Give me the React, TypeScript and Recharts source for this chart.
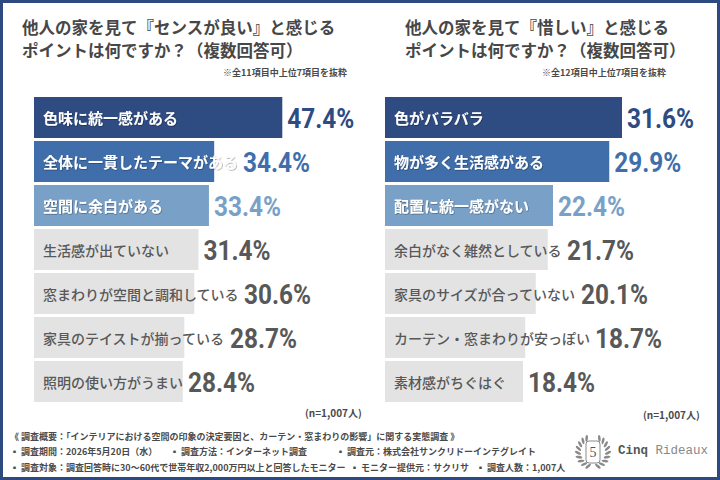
import * as React from 'react';
import { BarChart, Bar, XAxis, YAxis } from 'recharts';

// 左：センスが良いと感じるポイント
const senseCategories = [
  '色味に統一感がある',
  '全体に一貫したテーマがある',
  '空間に余白がある',
  '生活感が出ていない',
  '窓まわりが空間と調和している',
  '家具のテイストが揃っている',
  '照明の使い方がうまい',
];
const senseValues = [47.4, 34.4, 33.4, 31.4, 30.6, 28.7, 28.4];

// 右：惜しいと感じるポイント
const regretCategories = [
  '色がバラバラ',
  '物が多く生活感がある',
  '配置に統一感がない',
  '余白がなく雑然としている',
  '家具のサイズが合っていない',
  'カーテン・窓まわりが安っぽい',
  '素材感がちぐはぐ',
];
const regretValues = [31.6, 29.9, 22.4, 21.7, 20.1, 18.7, 18.4];

const topColors = ['#2e4b82', '#3f6eab', '#79a1c8'];
const GRAY_BAR = '#e3e3e3';
const GRAY_TEXT = '#585858';
const JP_FONT = '"Noto Sans CJK JP", "Noto Sans", sans-serif';
const NUM_FONT = 'Roboto, "DejaVu Sans Condensed", sans-serif';

const buildRows = (cats: string[], vals: number[]) =>
  cats.map((name, i) => ({ name, value: vals[i], rank: i }));

let ctx: CanvasRenderingContext2D | null = null;
function measure(text: string, font: string, fallback: number) {
  if (!ctx && typeof document !== 'undefined') {
    ctx = document.createElement('canvas').getContext('2d');
  }
  if (!ctx) return text.length * fallback;
  ctx.font = font;
  return ctx.measureText(text).width;
}

const RankBar = (props: any) => {
  const { x, y, width, height, payload } = props;
  const rank = payload.rank;
  const top = rank < 3;
  const fill = top ? topColors[rank] : GRAY_BAR;
  const fs = top ? 15 : 14;
  const weight = top ? 700 : 500;
  const pad = 9;
  const labelW = measure(payload.name, `${weight} ${fs}px ${JP_FONT}`, fs);
  const labelEnd = x + pad + labelW;
  const pctX = Math.max(x + width, labelEnd) + 5;
  const cy = y + height / 2;
  return (
    <g>
      <rect x={x} y={y} width={width} height={height} fill={fill} />
      <text
        x={x + pad}
        y={cy}
        dominantBaseline="central"
        fontFamily={JP_FONT}
        fontSize={fs}
        fontWeight={weight}
        fill={top ? '#ffffff' : GRAY_TEXT}
        filter={top ? 'url(#labelShadow)' : undefined}
      >
        {payload.name}
      </text>
      <text
        transform={`translate(${pctX} ${cy + 10}) scale(0.87 1)`}
        fontFamily={NUM_FONT}
        fontSize={28}
        fontWeight={700}
        fill={top ? fill : GRAY_TEXT}
      >
        {payload.value.toFixed(1) + '%'}
      </text>
    </g>
  );
};

const RankChart = ({ rows, max, left }: { rows: any[]; max: number; left: number }) => (
  <div style={{ position: 'absolute', left, top: 95 }}>
    <BarChart
      width={330}
      height={308}
      data={rows}
      layout="vertical"
      margin={{ top: 0, right: 0, bottom: 0, left: 0 }}
    >
      <XAxis type="number" domain={[0, max]} hide />
      <YAxis type="category" dataKey="name" hide />
      <Bar dataKey="value" barSize={41} shape={RankBar} isAnimationActive={false} />
    </BarChart>
  </div>
);

const titleStyle: React.CSSProperties = {
  position: 'absolute',
  top: 16,
  fontFamily: JP_FONT,
  fontSize: 16.5,
  fontWeight: 700,
  lineHeight: '23px',
  color: '#474747',
  whiteSpace: 'pre',
};

const smallStyle: React.CSSProperties = {
  position: 'absolute',
  fontFamily: JP_FONT,
  fontSize: 9,
  fontWeight: 700,
  color: '#4a4a4a',
  whiteSpace: 'pre',
  lineHeight: '12px',
};

const Laurel = () => {
  const leaves = [];
  for (let i = 0; i < 9; i++) {
    const a = ((25 + i * 17) * Math.PI) / 180;
    const cx = Math.sin(a) * 15;
    const cy = -Math.cos(a) * 15;
    const rot = (a * 180) / Math.PI + 60;
    leaves.push(
      <ellipse key={'r' + i} cx={21 + cx} cy={21 + cy} rx={3.4} ry={1.3} fill="#8a8a8a" transform={`rotate(${rot} ${21 + cx} ${21 + cy})`} />,
      <ellipse key={'l' + i} cx={21 - cx} cy={21 + cy} rx={3.4} ry={1.3} fill="#8a8a8a" transform={`rotate(${-rot} ${21 - cx} ${21 + cy})`} />
    );
  }
  return (
    <svg width={42} height={42} style={{ position: 'absolute', left: 572, top: 431 }}>
      {leaves}
      <rect x={14} y={10} width={14} height={22} rx={3} fill="none" stroke="#8a8a8a" strokeWidth={1} />
      <text x={21} y={26} textAnchor="middle" fontFamily='"Liberation Serif", serif' fontSize={14} fill="#555">5</text>
    </svg>
  );
};

export default function App() {
  const senseRows = buildRows(senseCategories, senseValues);
  const regretRows = buildRows(regretCategories, regretValues);
  return (
    <div
      style={{
        position: 'absolute',
        left: 0,
        top: 0,
        width: 720,
        height: 480,
        boxSizing: 'border-box',
        border: '3px solid #2d4a80',
        background: '#ffffff',
        overflow: 'hidden',
      }}
    >
      <svg width={0} height={0} style={{ position: 'absolute' }}>
        <defs>
          <filter id="labelShadow" x="-5%" y="-30%" width="110%" height="160%">
            <feDropShadow dx={0.6} dy={0.6} stdDeviation={0.7} floodColor="#000" floodOpacity={0.45} />
          </filter>
        </defs>
      </svg>
      <div style={{ position: 'absolute', left: -3, top: -3, width: 720, height: 480 }}>
        <div style={{ ...titleStyle, left: 22 }}>
          {'他人の家を見て『センスが良い』と感じる\nポイントは何ですか？（複数回答可）'}
        </div>
        <div style={{ ...titleStyle, left: 405 }}>
          {'他人の家を見て『惜しい』と感じる\nポイントは何ですか？（複数回答可）'}
        </div>
        <div style={{ ...smallStyle, right: 720 - 347, top: 67 }}>※全11項目中上位7項目を抜粋</div>
        <div style={{ ...smallStyle, right: 720 - 666, top: 67 }}>※全12項目中上位7項目を抜粋</div>

        <RankChart rows={senseRows} max={63} left={34} />
        <RankChart rows={regretRows} max={44} left={385} />

        <div style={{ ...smallStyle, fontSize: 10, left: 305, top: 407 }}>(n=1,007人)</div>
        <div style={{ ...smallStyle, fontSize: 10, left: 643, top: 409 }}>(n=1,007人)</div>

        <div style={{ ...smallStyle, left: 10, top: 431 }}>
          《 調査概要：「インテリアにおける空間の印象の決定要因と、カーテン・窓まわりの影響」に関する実態調査 》
        </div>
        <div style={{ ...smallStyle, left: 10, top: 446 }}>▪ 調査期間：2026年5月20日（水）</div>
        <div style={{ ...smallStyle, left: 170, top: 446 }}>▪ 調査方法：インターネット調査</div>
        <div style={{ ...smallStyle, left: 336, top: 446 }}>▪ 調査元：株式会社サンクリドーインテグレイト</div>
        <div style={{ ...smallStyle, left: 10, top: 462 }}>
          ▪ 調査対象：調査回答時に30～60代で世帯年収2,000万円以上と回答したモニター
        </div>
        <div style={{ ...smallStyle, left: 350, top: 462 }}>▪ モニター提供元：サクリサ</div>
        <div style={{ ...smallStyle, left: 476, top: 462 }}>▪ 調査人数：1,007人</div>

        <Laurel />
        <div
          style={{
            position: 'absolute',
            left: 618,
            top: 443,
            fontFamily: '"Liberation Mono", "DejaVu Sans Mono", monospace',
            fontSize: 12.5,
            whiteSpace: 'pre',
            lineHeight: '16px',
          }}
        >
          <span style={{ fontWeight: 700, color: '#555' }}>Cinq</span>
          <span style={{ color: '#888' }}> Rideaux</span>
        </div>
      </div>
    </div>
  );
}
